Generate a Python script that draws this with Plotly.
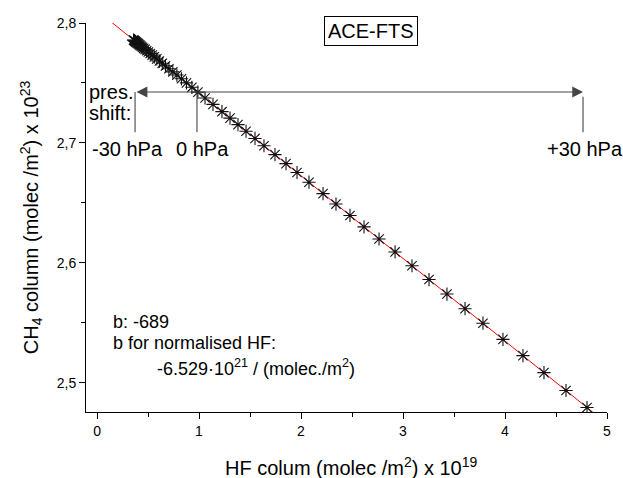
import plotly.graph_objects as go

# HF column (x 1e19 molec/m^2) for pressure shifts -30 ... +28 hPa
hf_column = [
    0.358, 0.362, 0.367, 0.372, 0.377, 0.383, 0.390, 0.397, 0.405, 0.414,
    0.423, 0.434, 0.445, 0.458, 0.472, 0.487, 0.503, 0.521, 0.541, 0.562,
    0.586, 0.612, 0.640, 0.671, 0.705, 0.743, 0.783, 0.828, 0.877, 0.930,
    0.989, 1.059, 1.137, 1.225, 1.304, 1.382, 1.461, 1.549, 1.637, 1.745,
    1.853, 1.961, 2.078, 2.216, 2.343, 2.480, 2.618, 2.765, 2.922, 3.088,
    3.255, 3.431, 3.608, 3.784, 3.980, 4.176, 4.382, 4.598, 4.804,
]
# CH4 column (x 1e23 molec/m^2)
ch4_column = [
    2.7858, 2.7856, 2.7852, 2.7849, 2.7845, 2.7841, 2.7836, 2.7832, 2.7826, 2.7820,
    2.7814, 2.7806, 2.7798, 2.7789, 2.7780, 2.7769, 2.7758, 2.7746, 2.7732, 2.7718,
    2.7701, 2.7683, 2.7664, 2.7643, 2.7619, 2.7593, 2.7566, 2.7535, 2.7501, 2.7464,
    2.7424, 2.7375, 2.7322, 2.7261, 2.7207, 2.7153, 2.7098, 2.7038, 2.6977, 2.6903,
    2.6828, 2.6754, 2.6673, 2.6578, 2.6491, 2.6396, 2.6301, 2.6200, 2.6092, 2.5977,
    2.5862, 2.5741, 2.5619, 2.5498, 2.5363, 2.5228, 2.5086, 2.4937, 2.4795,
]

# linear fit: slope -689 (in 1e23/1e19 units -> -0.0689)
fit_slope = -0.0689
fit_intercept = 2.8105
fit_x = [0.0, 5.0]

x_ticks = [0, 1, 2, 3, 4, 5]
y_ticks = [2.5, 2.6, 2.7, 2.8]

# pressure-shift markers (HF column positions)
shift_minus30 = 0.373
shift_zero = 0.980
shift_plus30 = 4.765
shift_y = 2.7425

FONT = "Liberation Sans, Arial, sans-serif"

fig = go.Figure()

fig.add_trace(go.Scatter(
    x=fit_x,
    y=[fit_intercept + fit_slope * v for v in fit_x],
    mode="lines",
    line=dict(color="#ff0000", width=1),
    hoverinfo="skip",
    showlegend=False,
))

fig.add_trace(go.Scatter(
    x=hf_column, y=ch4_column,
    mode="markers",
    marker=dict(symbol="asterisk-open", size=11, color="#111111",
                line=dict(color="#111111", width=1.1)),
    showlegend=False,
))

# double-headed pressure shift arrow
fig.add_annotation(
    x=shift_plus30, y=shift_y, ax=shift_minus30, ay=shift_y,
    xref="x", yref="y", axref="x", ayref="y",
    text="", showarrow=True, arrowside="end+start",
    arrowhead=2, startarrowhead=2, arrowsize=1.8, startarrowsize=1.8,
    arrowwidth=1.2, arrowcolor="#444444", standoff=0, startstandoff=0,
)

for xv, y_top in [(shift_minus30, shift_y), (shift_zero, shift_y), (shift_plus30, shift_y - 0.004)]:
    fig.add_shape(type="line", xref="x", yref="y",
                  x0=xv, x1=xv, y0=y_top, y1=2.709,
                  line=dict(color="#333333", width=1))

def label(text, x, y, size=20, xanchor="center", **kw):
    fig.add_annotation(x=x, y=y, xref="x", yref="y", text=text, showarrow=False,
                       xanchor=xanchor, yanchor="middle",
                       font=dict(family=FONT, size=size, color="black"), **kw)

label("pres.", -0.098, 2.7425, xanchor="left")
label("shift:", -0.098, 2.7250, xanchor="left")
label("-30 hPa", 0.294, 2.695)
label("0 hPa", 1.039, 2.695)
label("+30 hPa", 4.784, 2.695)
label("ACE-FTS", 2.686, 2.7937, bordercolor="black", borderwidth=1, borderpad=3)

label("b: -689", 0.134, 2.5511, size=18, xanchor="left")
label("b for normalised HF:", 0.134, 2.5333, size=18, xanchor="left")
label("-6.529·10<sup>21</sup> / (molec./m<sup>2</sup>)", 0.569, 2.5125, size=18, xanchor="left")

# x axis title placed below the tick labels
fig.add_annotation(
    x=0.51, y=-0.139, xref="paper", yref="paper",
    text="HF colum (molec /m<sup>2</sup>) x 10<sup>19</sup>",
    showarrow=False, xanchor="center", yanchor="middle",
    font=dict(family=FONT, size=20, color="black"),
)

fig.update_layout(
    width=623, height=478,
    margin=dict(l=86, r=16, t=23, b=66),
    paper_bgcolor="white", plot_bgcolor="white",
    separators=",.",
    font=dict(family=FONT, color="black"),
    xaxis=dict(
        range=[-0.108, 5.0], tickvals=x_ticks,
        showline=True, linecolor="black", linewidth=1,
        ticks="outside", ticklen=6, tickwidth=1, tickcolor="black",
        minor=dict(dtick=0.5, tick0=0, ticks="outside", ticklen=4, tickcolor="black"),
        showgrid=False, zeroline=False,
        tickfont=dict(family=FONT, size=14),
    ),
    yaxis=dict(
        range=[2.4758, 2.8], tickvals=y_ticks, tickformat=".1f",
        showline=True, linecolor="black", linewidth=1,
        ticks="outside", ticklen=6, tickwidth=1, tickcolor="black",
        minor=dict(dtick=0.05, tick0=2.5, ticks="outside", ticklen=4, tickcolor="black"),
        showgrid=False, zeroline=False,
        tickfont=dict(family=FONT, size=14),
        title=dict(text="CH<sub>4</sub> column (molec /m<sup>2</sup>) x 10<sup>23</sup>",
                   font=dict(family=FONT, size=20), standoff=12),
    ),
)

fig.write_html("out.html")
